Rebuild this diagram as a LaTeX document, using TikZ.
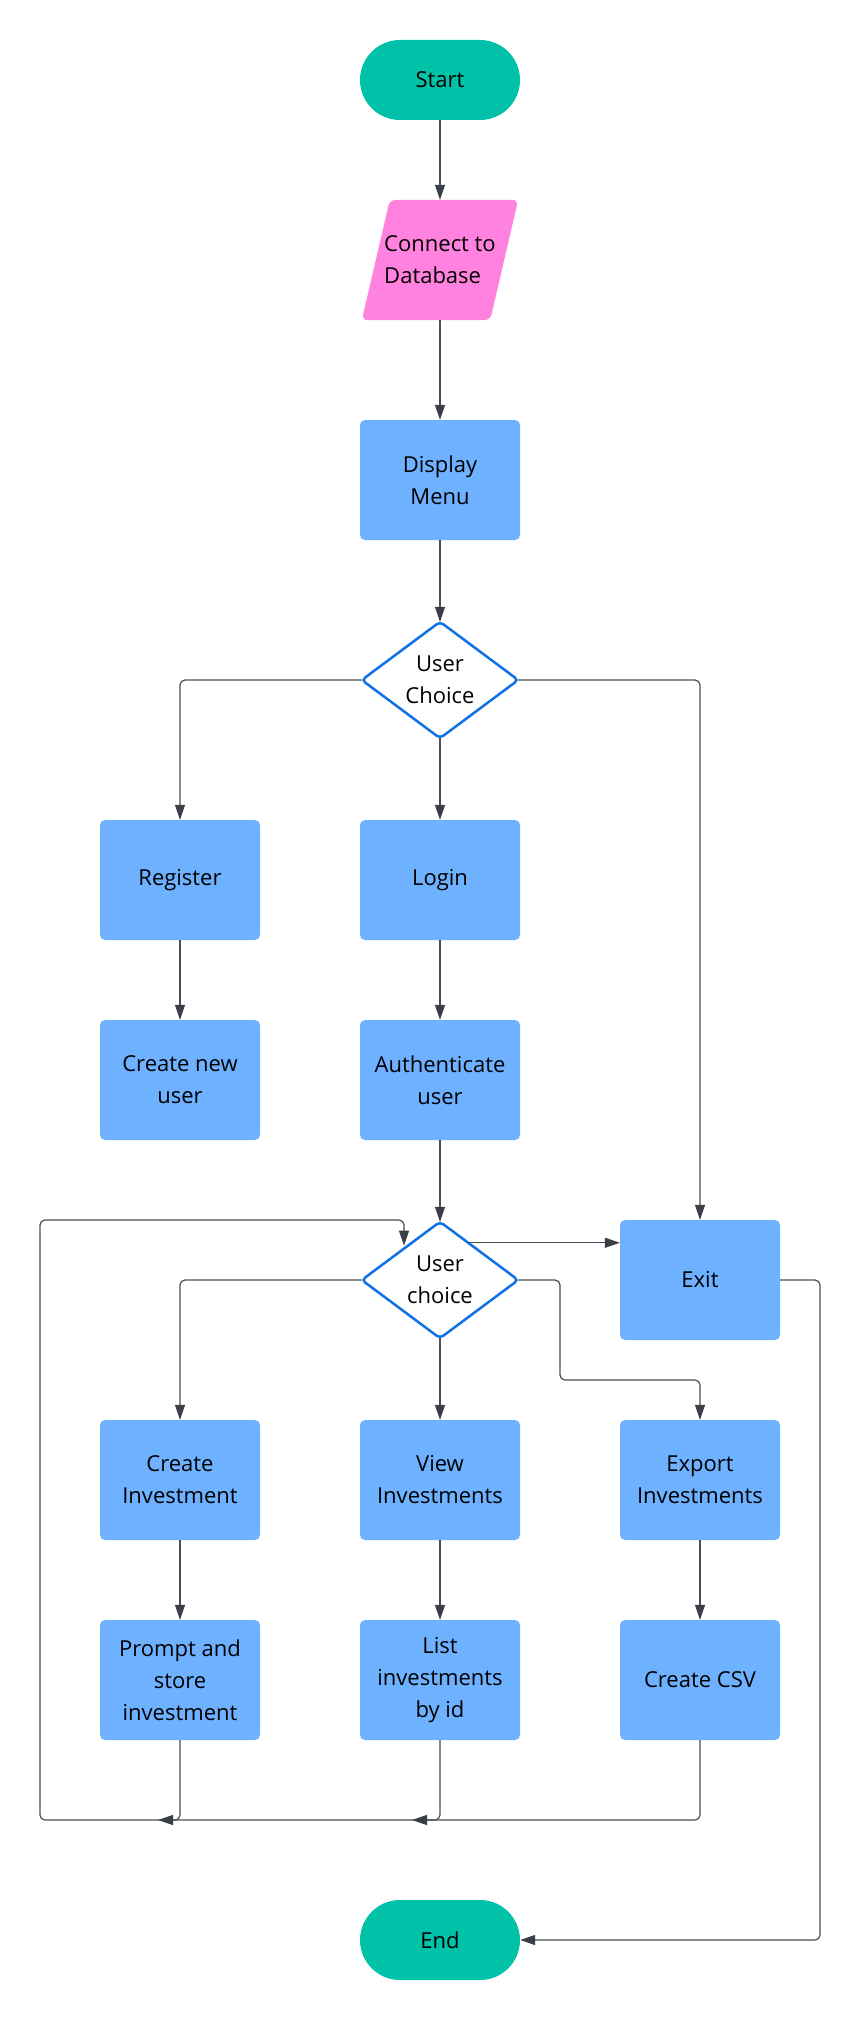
\documentclass[tikz,border=0pt]{standalone}
\usepackage{fontspec}
\setmainfont{Open Sans}
\usetikzlibrary{arrows.meta,calc,backgrounds}
\definecolor{termc}{HTML}{00C2A8}
\definecolor{ioc}{HTML}{FF82E0}
\definecolor{procc}{HTML}{6DB1FF}
\definecolor{decc}{HTML}{1071E5}
\definecolor{linec}{HTML}{4A4E57}
\definecolor{tipc}{HTML}{3A3E47}
\begin{document}
\begin{tikzpicture}[x=1pt,y=-1pt,
  every node/.style={font=\fontsize{22}{32}\selectfont, align=center, inner sep=0pt},
  term/.style={fill=termc, rounded corners=40pt, minimum width=160pt, minimum height=80pt},
  proc/.style={fill=procc, rounded corners=5pt, minimum width=160pt, minimum height=120pt},
  dec/.style={minimum width=156pt, minimum height=116pt},
  decline/.style={draw=decc, line width=2.5pt, rounded corners=4pt},
  link/.style={draw=linec, line width=1.2pt, rounded corners=5pt},
  arr/.style={link, -{Triangle[length=15pt,width=10pt,color=tipc]}}
]
\begin{scope}[on background layer]
  \fill[white] (0,0) rectangle (860,2020);
\end{scope}
\useasboundingbox (0,0) rectangle (860,2020);

% terminals
\node[term] (start) at (440,80) {Start};
\node[term] (end) at (440,1940) {End};

% input/output: parallelogram behind the text
\node[minimum width=128pt, minimum height=120pt, align=left] (db) at (440,260) {Connect to\\Database};
\begin{scope}[on background layer]
  \fill[ioc, rounded corners=6pt] ($(db.north west)+(14,0)$) -- ($(db.north east)+(14,0)$)
    -- ($(db.south east)+(-14,0)$) -- ($(db.south west)+(-14,0)$) -- cycle;
\end{scope}

% processes
\node[proc] (menu) at (440,480) {Display\\Menu};
\node[proc] (reg) at (180,880) {Register};
\node[proc] (login) at (440,880) {Login};
\node[proc] (newuser) at (180,1080) {Create new\\user};
\node[proc] (auth) at (440,1080) {Authenticate\\user};
\node[proc] (exit) at (700,1280) {Exit};
\node[proc] (ci) at (180,1480) {Create\\Investment};
\node[proc] (vi) at (440,1480) {View\\Investments};
\node[proc] (ei) at (700,1480) {Export\\Investments};
\node[proc] (pr) at (180,1680) {Prompt and\\store\\investment};
\node[proc] (li) at (440,1680) {List\\investments\\by id};
\node[proc] (csv) at (700,1680) {Create CSV};

% decisions
\node[dec] (d1) at (440,680) {User\\Choice};
\draw[decline] (d1.north) -- (d1.east) -- (d1.south) -- (d1.west) -- cycle;
\node[dec] (d2) at (440,1280) {User\\choice};
\draw[decline] (d2.north) -- (d2.east) -- (d2.south) -- (d2.west) -- cycle;

% helper points for routed connectors
\coordinate (ldia) at ($(d2.north)!0.46!(d2.west)$);
\coordinate (xs) at ($(d2.north)!0.36!(d2.east)$);
\coordinate (ej) at (560,1380);
\coordinate (xr) at (820,1280);
\coordinate (lbl) at (40,1820);
\coordinate (ltop) at (40,1220);
\coordinate (m1) at (158,1820);
\coordinate (m2) at (412,1820);

% main flow
\draw[arr] (start.south) -- (db.north);
\draw[arr] (db.south) -- (menu.north);
\draw[arr] (menu.south) -- (d1.north);
\draw[arr] (d1.west) -| (reg.north);
\draw[arr] (d1.south) -- (login.north);
\draw[arr] (d1.east) -| (exit.north);
\draw[arr] (reg.south) -- (newuser.north);
\draw[arr] (login.south) -- (auth.north);
\draw[arr] (auth.south) -- (d2.north);

% second menu
\draw[arr] (xs) -- (xs -| exit.west);
\draw[arr] (d2.west) -| (ci.north);
\draw[arr] (d2.south) -- (vi.north);
\draw[arr] (d2.east) -| (ej) -| (ei.north);
\draw[arr] (ci.south) -- (pr.north);
\draw[arr] (vi.south) -- (li.north);
\draw[arr] (ei.south) -- (csv.north);

% loop back to the second menu
\draw[arr, shorten >=3pt] (csv.south) |- (lbl) -- (ltop) -| (ldia);
\draw[arr] (pr.south) |- (m1);
\draw[arr] (li.south) |- (m2);

% exit to end
\draw[arr] (exit.east) -- (xr) |- (end.east);
\end{tikzpicture}
\end{document}
